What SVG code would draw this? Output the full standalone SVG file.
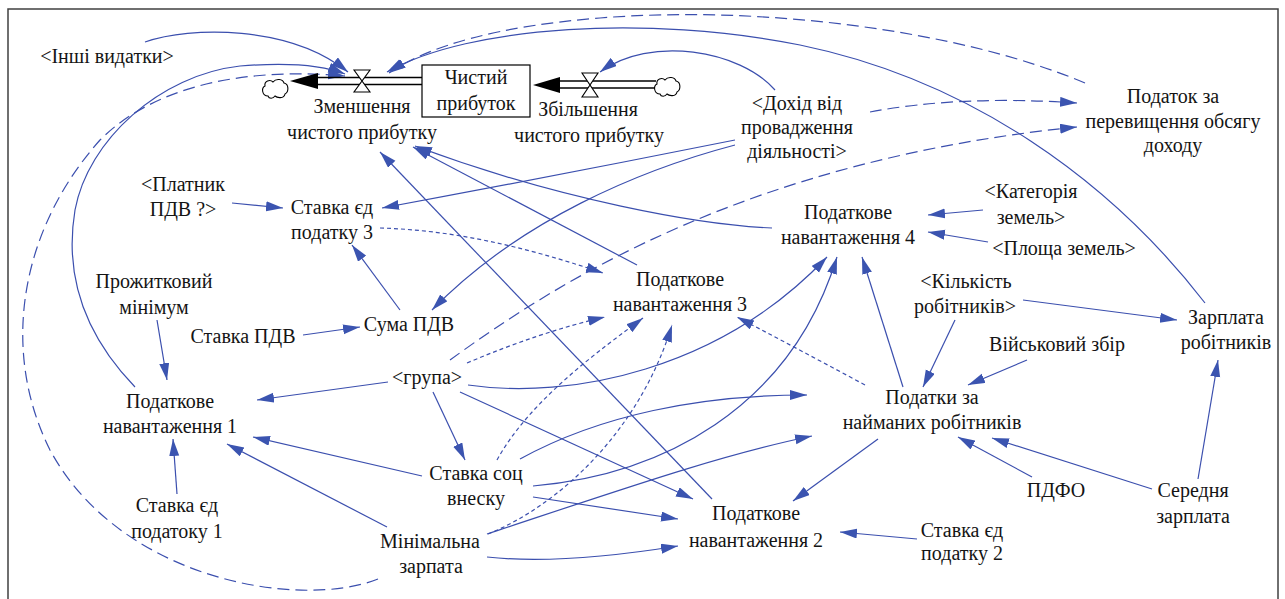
<svg xmlns="http://www.w3.org/2000/svg" width="1285" height="599" viewBox="0 0 1285 599">
<defs>
<style>
text{font-family:'Liberation Serif','Times New Roman',Tinos,'DejaVu Serif','Noto Serif',serif;font-size:20px;fill:#141414;text-anchor:middle}
.c{fill:none;stroke:#3b4fae;stroke-width:1.2;marker-end:url(#ah)}
.d{stroke-dasharray:12 6}
.o{stroke-dasharray:4 3}
.pipe{stroke:#000;stroke-width:1.3;fill:none}
.valve{fill:#fff;stroke:#000;stroke-width:1.1}
.cloud{fill:#fff;stroke:#000;stroke-width:1.1}
</style>
<marker id="ah" markerUnits="userSpaceOnUse" markerWidth="18" markerHeight="11" refX="17" refY="5" orient="auto">
<path d="M0,0 L17,5 L0,10 z" fill="#3b54b0"/>
</marker>
<path id="cl" d="M268,96 C262,96 261,88 265,86 C264,81 270,79 273,82 C276,78 283,79 284,83 C289,84 289,92 285,94 C284,99 277,98 275,96 C273,99 269,99 268,96 Z"/>
</defs>
<rect x="8" y="9" width="1270" height="620" fill="none" stroke="#404040" stroke-width="1.5"/>

<g id="connectors">
<path class="c" d="M145,42 C190,26 290,25 348,72"/>
<path class="c" d="M135,387 C80,330 65,270 75,210 C88,140 160,75 240,66 C290,62 325,66 345,74"/>
<path class="c d" d="M378,579 C300,610 120,580 50,450 C0,350 20,230 100,140 C160,80 260,68 345,76"/>
<path class="c" d="M1205,303 C1110,180 970,80 800,45 C650,15 470,25 387,72"/>
<path class="c d" d="M1085,83 C960,30 760,5 600,18 C500,26 430,45 389,73"/>
<path class="c" d="M775,90 C740,50 650,35 600,72"/>
<path class="c" d="M637,265 L413,147"/>
<path class="c" d="M772,228 C700,225 560,200 415,146"/>
<path class="c" d="M712,499 L380,152"/>
<path class="c" d="M735,140 Q560,175 382,208"/>
<path class="c" d="M735,145 C640,170 520,220 432,310"/>
<path class="c d" d="M870,112 Q960,95 1077,103"/>
<path class="c d" d="M450,360 C560,280 750,160 1077,127"/>
<path class="c" d="M232,203 L283,208"/>
<path class="c" d="M400,310 L352,245"/>
<path class="c" d="M303,335 L360,327"/>
<path class="c o" d="M380,228 C450,230 520,245 603,273"/>
<path class="c" d="M157,320 L167,380"/>
<path class="c" d="M388,382 L257,400"/>
<path class="c" d="M433,392 L465,460"/>
<path class="c" d="M460,392 L693,499"/>
<path class="c o" d="M467,363 Q540,332 605,317"/>
<path class="c" d="M468,385 C570,400 720,370 827,257"/>
<path class="c" d="M422,476 L253,437"/>
<path class="c" d="M387,527 L227,444"/>
<path class="c" d="M177,494 L173,439"/>
<path class="c o" d="M497,460 C530,400 600,350 643,318"/>
<path class="c o" d="M488,534 C560,505 640,430 672,325"/>
<path class="c" d="M520,459 C600,415 700,395 807,395"/>
<path class="c" d="M533,486 C660,475 790,410 837,257"/>
<path class="c" d="M533,497 L678,519"/>
<path class="c" d="M487,534 C620,490 720,455 812,436"/>
<path class="c" d="M487,557 Q560,565 678,546"/>
<path class="c" d="M917,539 L840,532"/>
<path class="c" d="M878,439 L793,501"/>
<path class="c" d="M1032,477 L958,437"/>
<path class="c" d="M1152,489 L992,438"/>
<path class="c" d="M1198,479 L1218,360"/>
<path class="c" d="M1023,300 L1177,320"/>
<path class="c" d="M955,320 L923,387"/>
<path class="c" d="M1027,360 L968,385"/>
<path class="c" d="M903,387 L862,257"/>
<path class="c o" d="M865,385 Q800,350 737,317"/>
<path class="c" d="M983,210 L928,215"/>
<path class="c" d="M988,242 L928,232"/>
</g>

<g id="flow-out">
<line class="pipe" x1="316" y1="77.5" x2="422" y2="77.5"/>
<line class="pipe" x1="316" y1="84.5" x2="422" y2="84.5"/>
<polygon points="290,81 318,73 318,89" fill="#000"/>
<use href="#cl" class="cloud"/>
<path class="valve" d="M354,70 H370 L354,92 H370 Z"/>
<text x="362" y="113">Зменшення</text>
<text x="362" y="139">чистого прибутку</text>
</g>

<g id="flow-in">
<line class="pipe" x1="558" y1="81" x2="656" y2="81"/>
<line class="pipe" x1="558" y1="88" x2="656" y2="88"/>
<polygon points="533,85 560,77 560,93" fill="#000"/>
<use href="#cl" class="cloud" transform="translate(392,-2)"/>
<path class="valve" d="M582,73 H598 L582,97 H598 Z"/>
<text x="588" y="116">Збільшення</text>
<text x="589" y="142">чистого прибутку</text>
</g>

<g id="stock">
<rect x="422" y="65" width="108" height="52" fill="#fff" stroke="#000" stroke-width="1.2"/>
<text x="476" y="84">Чистий</text>
<text x="476" y="110">прибуток</text>
</g>

<g id="inshi"><text x="107" y="63">&lt;Інші видатки&gt;</text></g>
<g id="dokhid"><text x="797" y="110">&lt;Дохід від</text><text x="797" y="134">провадження</text><text x="797" y="158">діяльності&gt;</text></g>
<g id="podatok-perev"><text x="1173" y="103">Податок за</text><text x="1173" y="128">перевищення обсягу</text><text x="1173" y="152">доходу</text></g>
<g id="platnyk"><text x="183" y="191">&lt;Платник</text><text x="183" y="216">ПДВ ?&gt;</text></g>
<g id="stavka3"><text x="332" y="214">Ставка єд</text><text x="332" y="239">податку 3</text></g>
<g id="prozh"><text x="154" y="288">Прожитковий</text><text x="154" y="314">мінімум</text></g>
<g id="stavka-pdv"><text x="243" y="343">Ставка ПДВ</text></g>
<g id="suma-pdv"><text x="409" y="331">Сума ПДВ</text></g>
<g id="grupa"><text x="427" y="384">&lt;група&gt;</text></g>
<g id="pn1"><text x="170" y="408">Податкове</text><text x="170" y="433">навантаження 1</text></g>
<g id="stavka1"><text x="177" y="512">Ставка єд</text><text x="177" y="538">податоку 1</text></g>
<g id="min-zp"><text x="430" y="548">Мінімальна</text><text x="431" y="573">зарпата</text></g>
<g id="stavka-soc"><text x="476" y="480">Ставка соц</text><text x="476" y="505">внеску</text></g>
<g id="pn2"><text x="756" y="520">Податкове</text><text x="756" y="547">навантаження 2</text></g>
<g id="stavka2"><text x="962" y="537">Ставка єд</text><text x="962" y="560">податку 2</text></g>
<g id="pdfo"><text x="1056" y="497">ПДФО</text></g>
<g id="serednia"><text x="1193" y="497">Середня</text><text x="1193" y="523">зарплата</text></g>
<g id="podatky-naim"><text x="932" y="404">Податки за</text><text x="932" y="429">найманих робітників</text></g>
<g id="viysk"><text x="1057" y="351">Військовий збір</text></g>
<g id="zarplata-rob"><text x="1226" y="324">Зарплата</text><text x="1226" y="349">робітників</text></g>
<g id="kilkist"><text x="966" y="288">&lt;Кількість</text><text x="965" y="313">робітників&gt;</text></g>
<g id="kategoriya"><text x="1031" y="198">&lt;Категорія</text><text x="1031" y="224">земель&gt;</text></g>
<g id="ploshcha"><text x="1064" y="255">&lt;Площа земель&gt;</text></g>
<g id="pn4"><text x="848" y="219">Податкове</text><text x="848" y="244">навантаження 4</text></g>
<g id="pn3"><text x="680" y="286">Податкове</text><text x="680" y="311">навантаження 3</text></g>
</svg>
